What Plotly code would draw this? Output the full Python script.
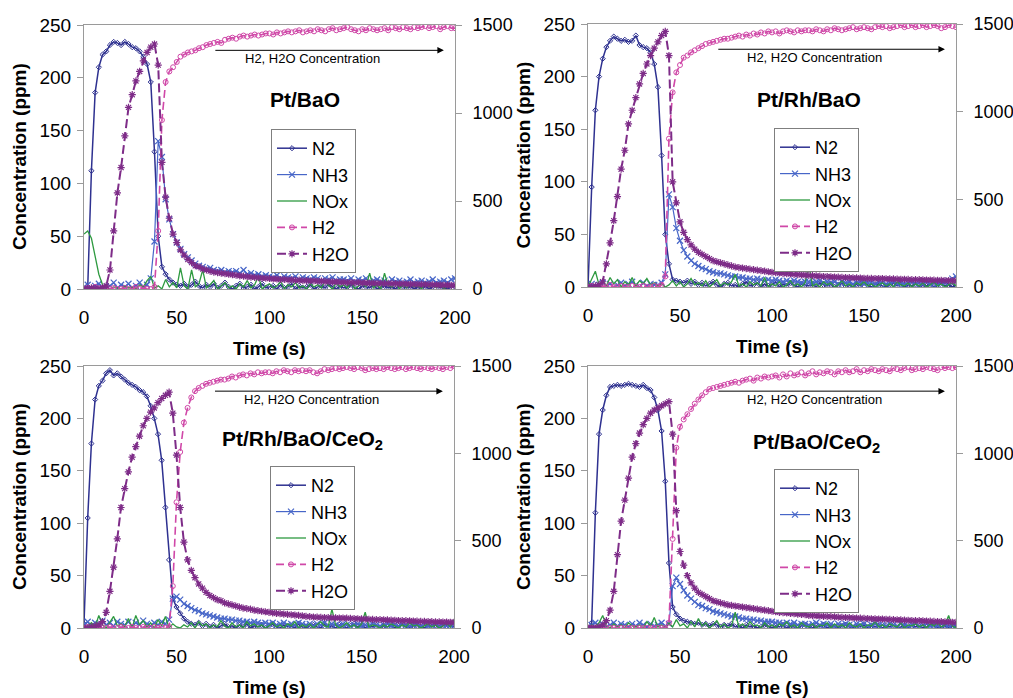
import plotly.graph_objects as go

# ---------------- data (time in s, 2 s sampling) ----------------
T = list(range(0, 201, 2))

PANEL_TITLES = ["Pt/BaO", "Pt/Rh/BaO", "Pt/Rh/BaO/CeO<sub>2</sub>", "Pt/BaO/CeO<sub>2</sub>"]
SERIES_NAMES = ["N2", "NH3", "NOx", "H2", "H2O"]
X_TICKS = [0, 50, 100, 150, 200]
Y_LEFT_TICKS = [0, 50, 100, 150, 200, 250]
Y_RIGHT_TICKS = [0, 500, 1000, 1500]

# ---- Panel 1: Pt/BaO (N2, NH3, NOx in ppm left axis; H2, H2O ppm right axis)
PTBAO_N2 = [0,1,112,186,210,222,225,231,234,233,
            231,234,232,229,228,225,220,213,196,130,
            50,21,14,9,6,4,3,5,2,4,
            7,3,1,4,2,5,1,3,6,2,
            0,3,5,1,2,4,0,2,5,1,
            2,3,0,4,1,2,5,0,3,1,
            2,4,0,2,3,1,5,2,0,3,
            1,2,4,1,0,3,2,1,4,0,
            2,3,1,2,0,4,2,1,3,0,
            2,1,3,0,2,4,1,2,0,3,
            2]
PTBAO_NH3 = [2,4,1,3,5,2,0,3,6,1,
             4,2,5,1,3,6,2,4,10,45,
             140,125,85,66,52,44,38,33,30,27,
             24,22,21,19,20,18,17,18,16,17,
             16,17,15,18,14,15,13,14,12,13,
             12,11,13,10,12,11,10,12,9,11,
             10,9,11,10,8,10,9,11,8,9,
             9,8,10,7,9,8,10,7,8,9,
             7,8,6,9,7,8,6,7,9,6,
             7,8,6,7,9,6,7,8,6,9,
             10]
PTBAO_NOX = [52,55,48,30,14,4,1,0,2,1,
             0,3,1,2,0,4,2,8,12,1,
             3,0,9,2,6,1,20,3,0,18,
             2,5,18,1,4,8,0,3,6,1,
             3,0,5,2,8,1,4,12,0,3,
             5,1,3,7,0,4,2,6,1,3,
             0,5,2,4,1,8,3,0,6,2,
             4,1,7,0,3,5,2,15,1,4,
             0,15,3,2,6,0,4,1,5,2,
             3,0,6,2,4,1,5,0,3,2,
             4]
PTBAO_H2 = [0,6,0,12,0,6,0,0,6,0,
            0,6,0,0,12,0,6,0,0,12,
            330,960,1176,1236,1260,1290,1320,1332,1344,1350,
            1356,1368,1374,1386,1392,1398,1404,1398,1416,1422,
            1428,1422,1434,1440,1434,1440,1446,1440,1446,1452,
            1452,1446,1458,1452,1458,1464,1458,1464,1470,1458,
            1464,1470,1464,1476,1470,1464,1476,1482,1470,1476,
            1482,1488,1476,1470,1464,1476,1470,1482,1476,1470,
            1476,1482,1470,1488,1482,1476,1488,1482,1476,1488,
            1482,1488,1494,1482,1488,1494,1476,1488,1494,1482,
            1482]
PTBAO_H2O = [0,3,6,4,2,6,18,108,330,546,
             690,870,1032,1104,1182,1236,1296,1344,1374,1392,
             1272,720,522,402,312,264,222,192,168,150,
             132,126,114,108,102,96,93,90,87,84,
             81,78,75,73,70,68,66,64,62,61,
             60,57,58,54,55,52,53,49,50,47,
             48,46,47,44,45,42,43,40,41,39,
             39,37,38,36,37,35,35,33,34,32,
             33,31,32,30,31,29,30,28,28,27,
             27,26,27,25,25,23,24,22,23,21,
             21]

# ---- Panel 2: Pt/Rh/BaO
PTRHBAO_N2 = [0,95,168,200,217,228,234,238,236,234,
              235,233,234,239,230,228,227,223,212,190,
              125,50,22,7,6,5,4,6,3,5,
              2,4,1,3,5,2,0,3,4,1,
              2,0,3,5,1,2,4,0,3,1,
              2,5,0,3,1,4,2,0,3,2,
              1,3,0,4,2,1,3,0,2,4,
              1,2,0,3,1,4,2,0,2,3,
              1,0,2,4,1,3,0,2,1,3,
              0,2,1,3,0,2,4,1,2,0,
              2]
PTRHBAO_NH3 = [1,3,0,2,4,1,3,0,2,4,
               1,3,5,2,0,4,1,3,2,2,
               4,12,88,76,56,44,35,29,25,22,
               20,18,17,15,14,13,13,12,11,10,
               10,9,9,8,8,7,8,7,6,7,
               6,7,6,5,6,5,6,5,4,5,
               5,4,5,6,4,5,4,5,3,5,
               4,5,3,4,5,3,4,4,3,5,
               4,3,4,5,3,4,3,4,5,3,
               4,3,5,3,4,3,5,4,6,8,
               10]
PTRHBAO_NOX = [0,8,15,2,6,1,9,3,7,0,
               5,2,9,1,6,3,8,2,4,1,
               3,0,2,6,1,5,0,3,8,2,
               4,1,6,0,3,7,1,4,2,5,
               12,1,3,0,5,2,4,1,9,0,
               3,1,5,0,2,6,1,3,0,4,
               22,1,3,0,5,2,4,0,2,6,
               1,3,0,4,2,5,1,3,0,2,
               4,1,3,0,5,2,1,4,0,3,
               1,4,0,2,5,1,3,0,2,4,
               1]
PTRHBAO_H2 = [0,6,0,0,6,0,12,0,0,6,
              0,0,6,0,0,6,0,0,6,0,
              12,60,846,1110,1224,1266,1308,1320,1338,1350,
              1362,1374,1386,1392,1398,1404,1410,1416,1416,1422,
              1428,1434,1428,1440,1434,1446,1440,1452,1446,1458,
              1452,1458,1446,1458,1464,1458,1452,1464,1458,1464,
              1464,1458,1470,1464,1458,1470,1464,1476,1470,1464,
              1470,1476,1482,1470,1476,1482,1476,1470,1482,1488,
              1482,1488,1476,1482,1488,1494,1482,1488,1494,1482,
              1488,1494,1482,1488,1494,1488,1476,1482,1494,1488,
              1482]
PTRHBAO_H2O = [0,0,6,12,30,132,252,378,516,672,
               780,930,1008,1080,1158,1218,1272,1320,1362,1398,
               1434,1458,1320,600,480,372,312,270,240,216,
               198,186,174,162,150,144,138,132,126,120,
               114,111,108,105,102,99,96,93,90,87,
               84,82,80,78,76,75,72,71,69,68,
               66,65,63,62,60,60,58,57,56,55,
               54,53,52,52,51,50,49,49,48,48,
               48,47,46,46,45,44,44,43,42,42,
               42,41,40,40,39,38,38,37,37,36,
               36]

# ---- Panel 3: Pt/Rh/BaO/CeO2
PTRHBAOCE_N2 = [4,105,176,218,231,236,243,246,241,243,
                240,237,234,232,230,227,225,221,212,200,
                185,160,115,65,28,20,14,9,6,4,
                3,5,2,4,1,3,0,2,4,1,
                2,0,3,1,4,0,2,1,3,0,
                2,4,1,0,3,1,2,0,4,1,
                0,2,3,1,0,4,1,2,0,3,
                1,0,2,4,1,3,0,2,1,3,
                0,2,1,3,0,2,4,1,0,2,
                3,1,0,2,1,3,0,2,4,1,
                2]
PTRHBAOCE_NH3 = [3,6,2,5,4,7,3,5,2,6,
                 4,3,6,2,5,3,7,4,2,5,
                 3,6,4,8,28,30,27,23,21,19,
                 17,16,14,13,12,11,10,9,9,8,
                 8,7,7,6,6,5,6,5,4,5,
                 4,5,3,4,5,3,4,3,5,4,
                 3,4,2,4,3,5,2,4,3,2,
                 4,3,2,3,4,2,3,2,4,3,
                 2,3,4,2,3,2,4,3,2,3,
                 4,2,3,2,3,4,2,3,2,3,
                 4]
PTRHBAOCE_NOX = [0,2,5,1,12,3,0,6,11,2,
                 4,1,9,0,12,3,7,1,5,0,
                 8,2,11,0,4,1,0,3,1,5,
                 0,6,2,4,0,3,1,7,2,0,
                 5,1,3,0,6,2,4,1,3,0,
                 2,5,1,3,0,4,2,6,0,3,
                 1,4,0,3,6,2,1,18,3,0,
                 2,5,1,3,0,4,15,1,3,2,
                 0,3,1,4,2,0,3,1,5,2,
                 3,0,2,4,1,3,0,2,5,1,
                 8]
PTRHBAOCE_H2 = [0,6,0,0,6,0,0,6,0,0,
                6,0,0,6,0,0,6,0,0,6,
                0,6,0,6,240,720,1008,1176,1260,1320,
                1356,1374,1386,1398,1404,1410,1416,1422,1422,1428,
                1440,1434,1446,1452,1446,1458,1452,1464,1458,1464,
                1464,1458,1470,1464,1476,1470,1464,1476,1470,1476,
                1470,1476,1464,1458,1470,1482,1476,1482,1488,1482,
                1488,1494,1488,1482,1494,1488,1476,1482,1488,1482,
                1488,1482,1494,1488,1482,1488,1494,1482,1488,1494,
                1488,1482,1494,1488,1482,1494,1488,1482,1494,1488,
                1500]
PTRHBAOCE_H2O = [0,0,6,12,18,36,90,210,348,510,
                 690,798,894,978,1038,1098,1158,1200,1236,1260,
                 1290,1314,1332,1350,1230,990,690,492,390,330,
                 288,252,228,204,186,174,162,156,144,138,
                 132,126,120,114,111,108,102,99,96,93,
                 90,87,84,82,80,78,76,74,72,70,
                 66,65,63,62,61,60,59,58,58,57,
                 57,56,55,54,53,52,51,50,49,48,
                 48,47,46,45,44,43,42,42,41,40,
                 39,38,38,37,36,35,35,34,34,33,
                 33]

# ---- Panel 4: Pt/BaO/CeO2
PTBAOCE_N2 = [0,5,110,185,208,222,230,231,232,231,
              232,233,232,231,230,232,229,227,220,208,
              188,140,62,20,13,9,7,6,5,4,
              5,3,4,2,4,3,1,3,2,4,
              1,2,0,3,1,2,0,1,3,2,
              0,2,1,3,0,2,1,0,2,3,
              1,0,2,1,3,0,2,1,0,2,
              3,1,0,2,1,3,0,2,1,2,
              0,2,1,3,0,1,2,0,3,1,
              2,0,1,3,2,0,1,2,0,2,
              1]
PTBAOCE_NH3 = [1,3,5,2,4,1,3,5,2,4,
               3,1,4,2,5,3,1,4,2,3,
               5,2,4,40,48,42,36,31,28,25,
               22,21,19,18,16,15,14,13,12,11,
               11,10,9,9,8,8,7,7,6,6,
               6,5,5,4,5,4,5,3,4,4,
               3,4,5,3,4,3,4,2,4,3,
               4,3,2,4,3,4,2,3,4,3,
               3,2,4,3,2,4,3,2,3,4,
               2,3,4,2,3,2,4,3,2,3,
               3]
PTBAOCE_NOX = [0,3,1,5,12,2,0,4,1,3,
               0,5,2,1,3,0,6,2,10,1,
               3,0,5,1,8,2,4,0,6,1,
               9,2,5,0,3,7,1,4,0,2,
               15,1,4,0,6,2,3,0,5,1,
               3,0,4,2,6,1,3,0,5,2,
               1,4,0,3,2,5,0,4,1,3,
               0,5,2,1,4,0,3,2,6,1,
               3,0,4,2,1,5,0,3,2,4,
               1,3,0,4,2,5,1,3,12,2,
               0]
PTBAOCE_H2 = [0,0,0,0,0,0,0,0,0,0,
              0,0,0,0,0,0,0,0,0,0,
              0,0,30,510,1032,1152,1194,1224,1254,1284,
              1308,1332,1350,1368,1374,1380,1386,1392,1398,1404,
              1410,1404,1416,1422,1428,1416,1434,1428,1440,1434,
              1440,1446,1434,1452,1440,1458,1446,1452,1464,1446,
              1458,1470,1452,1464,1458,1470,1464,1452,1470,1464,
              1476,1464,1470,1482,1464,1476,1470,1482,1476,1470,
              1482,1476,1470,1488,1482,1476,1488,1494,1476,1482,
              1488,1482,1494,1488,1482,1476,1494,1488,1494,1488,
              1494]
PTBAOCE_H2O = [0,0,0,6,18,42,102,210,420,612,
               732,858,978,1056,1116,1164,1200,1230,1248,1260,
               1272,1284,1296,1110,672,438,360,300,258,228,
               204,192,180,168,156,150,144,138,132,129,
               126,123,120,117,114,111,108,105,102,99,
               96,93,90,88,86,84,82,80,78,76,
               72,71,70,68,67,66,65,64,62,61,
               60,59,58,57,56,55,54,53,52,51,
               51,50,49,48,47,46,45,44,43,42,
               42,41,40,39,38,37,36,35,34,33,
               33]

PANEL_DATA = [
    [PTBAO_N2, PTBAO_NH3, PTBAO_NOX, PTBAO_H2, PTBAO_H2O],
    [PTRHBAO_N2, PTRHBAO_NH3, PTRHBAO_NOX, PTRHBAO_H2, PTRHBAO_H2O],
    [PTRHBAOCE_N2, PTRHBAOCE_NH3, PTRHBAOCE_NOX, PTRHBAOCE_H2, PTRHBAOCE_H2O],
    [PTBAOCE_N2, PTBAOCE_NH3, PTBAOCE_NOX, PTBAOCE_H2, PTBAOCE_H2O],
]
for _p in PANEL_DATA:
    for _s in _p:
        assert len(_s) == len(T), len(_s)

# ---------------- styling ----------------
W, H = 1013, 698
FONT = "Liberation Sans, Arial, sans-serif"
AXIS_GREY = "#9a9a9a"

STYLES = {
    "N2":  dict(mode="lines+markers", line=dict(color="#2E3190", width=1.5),
                marker=dict(symbol="diamond-open", size=4, color="#2E3190", line=dict(width=1))),
    "NH3": dict(mode="lines+markers", line=dict(color="#4766C8", width=1.2),
                marker=dict(symbol="x-thin-open", size=6, color="#4766C8", line=dict(width=1.2, color="#4766C8"))),
    "NOx": dict(mode="lines", line=dict(color="#2E9A40", width=1.3)),
    "H2":  dict(mode="lines+markers", line=dict(color="#D048A8", width=1.6, dash="8px,4px"),
                marker=dict(symbol="circle-open", size=5, color="#D048A8", line=dict(width=1))),
    "H2O": dict(mode="lines+markers", line=dict(color="#7E2C88", width=2, dash="9px,4px"),
                marker=dict(symbol="asterisk-open", size=6, color="#7E2C88", line=dict(width=1.2, color="#7E2C88"))),
}

# pixel geometry of each panel: (left, right, top, bottom)
PANEL_PX = [(84, 455, 25, 289), (588, 956, 24, 287), (84, 454, 366, 628), (588, 956, 366, 628)]
LEGEND_PX = [(271, 129), (774, 128), (270, 466), (774, 469)]
TITLE_PX = [(305, 100), (809, 100), (302, 440), (816, 443)]

fig = go.Figure()
layout = dict(width=W, height=H, margin=dict(l=0, r=0, t=0, b=0, pad=0), autosize=False,
              paper_bgcolor="white", plot_bgcolor="white",
              font=dict(family=FONT, color="black", size=18), showlegend=True)
annotations = []

for k in range(4):
    xa = "x" if k == 0 else f"x{k+1}"
    yl = "y" if k == 0 else f"y{2*k+1}"
    yr = f"y{2*k+2}"
    xkey = "xaxis" if k == 0 else f"xaxis{k+1}"
    ylkey = "yaxis" if k == 0 else f"yaxis{2*k+1}"
    yrkey = f"yaxis{2*k+2}"
    lg = "legend" if k == 0 else f"legend{k+1}"
    L, R, Tp, B = PANEL_PX[k]
    xd = [L / W, R / W]
    yd = [1 - B / H, 1 - Tp / H]

    layout[xkey] = dict(domain=xd, anchor=yl, range=[0, 200], tickvals=X_TICKS, ticks="",
                        showgrid=False, zeroline=False, showline=True, mirror=True,
                        linecolor=AXIS_GREY, linewidth=1, tickfont=dict(size=19),
                        ticklabelstandoff=11, automargin=False)
    layout[ylkey] = dict(domain=yd, anchor=xa, range=[0, 250], tickvals=Y_LEFT_TICKS,
                         ticks="outside", ticklen=6, tickcolor=AXIS_GREY, showgrid=False,
                         zeroline=False, showline=True, mirror=True, linecolor=AXIS_GREY,
                         linewidth=1, tickfont=dict(size=19), ticklabelstandoff=2,
                         automargin=False)
    layout[yrkey] = dict(overlaying=yl, side="right", anchor=xa, range=[0, 1500],
                         tickvals=Y_RIGHT_TICKS, ticks="outside", ticklen=6,
                         tickcolor=AXIS_GREY, showgrid=False, zeroline=False,
                         showline=True, linecolor=AXIS_GREY, linewidth=1,
                         tickfont=dict(size=18), ticklabelstandoff=7, automargin=False)
    lx, ly = LEGEND_PX[k]
    layout[lg] = dict(x=lx / W, y=1 - ly / H, xanchor="left", yanchor="top",
                      bgcolor="white", bordercolor="#7f7f7f", borderwidth=1,
                      font=dict(size=18, family=FONT), itemwidth=30, tracegroupgap=0)

    for name, vals in zip(SERIES_NAMES, PANEL_DATA[k]):
        axis_y = yr if name in ("H2", "H2O") else yl
        fig.add_trace(go.Scatter(x=T, y=vals, name=name, xaxis=xa, yaxis=axis_y,
                                 legend=lg, **STYLES[name]))

    # panel title
    tx, ty = TITLE_PX[k]
    annotations.append(dict(text=f"<b>{PANEL_TITLES[k]}</b>", xref="paper", yref="paper",
                            x=tx / W, y=1 - ty / H, xanchor="center", yanchor="middle",
                            showarrow=False, font=dict(size=21, family=FONT)))
    # arrow to right axis
    annotations.append(dict(text="", xref=xa, yref=yl, x=194, y=226, ax=70, ay=226,
                            axref=xa, ayref=yl, showarrow=True, arrowhead=2,
                            arrowsize=1.3, arrowwidth=1, arrowcolor="black"))
    annotations.append(dict(text="H2, H2O Concentration", xref=xa, yref=yl, x=123, y=218,
                            xanchor="center", yanchor="middle",
                            showarrow=False, font=dict(size=13, family=FONT)))
    # axis titles
    annotations.append(dict(text="<b>Concentration (ppm)</b>", xref="paper", yref="paper",
                            x=(L - 65) / W, y=1 - (Tp + B) / 2 / H, textangle=-90,
                            xanchor="center", yanchor="middle",
                            showarrow=False, font=dict(size=19, family=FONT)))
    annotations.append(dict(text="<b>Time (s)</b>", xref="paper", yref="paper",
                            x=(L + R) / 2 / W, y=1 - (B + 59) / H,
                            xanchor="center", yanchor="middle", showarrow=False,
                            font=dict(size=19, family=FONT)))

layout["annotations"] = annotations
fig.update_layout(**layout)
fig.write_html("out.html")
